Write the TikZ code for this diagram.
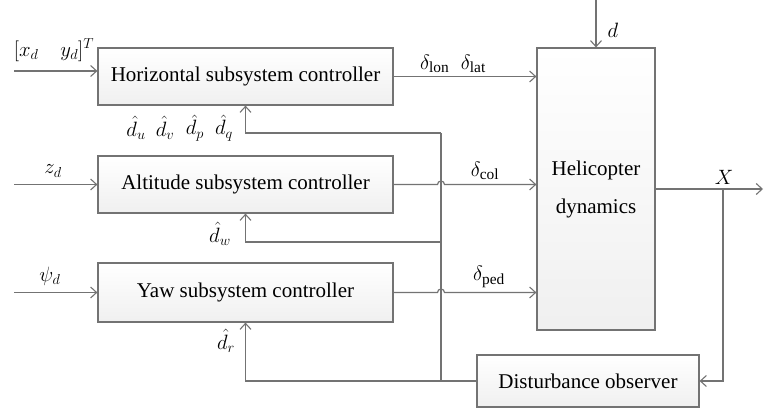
\documentclass[tikz,border=0pt]{standalone}
\usepackage{fontspec}
\setmainfont{Liberation Serif}
\usetikzlibrary{arrows.meta,calc}
\definecolor{lc}{RGB}{115,115,115}
\tikzset{
  blk/.style={draw=lc, line width=1.2pt, top color=white, bottom color=black!6, inner sep=0pt, font=\fontsize{21}{25}\selectfont},
  arr/.style={draw=lc, line width=1.2pt, -{Straight Barb[length=6pt,width=11pt,line width=1.1pt]}},
  ln/.style={draw=lc, line width=1.2pt},
  lab/.style={font=\fontsize{22}{26}\selectfont, inner sep=0pt}
}
\begin{document}
\begin{tikzpicture}[x=1pt,y=-1pt]
\useasboundingbox (0,0) rectangle (764,411);
% blocks
\node[blk, minimum width=295pt, minimum height=57pt] (hor) at (245.5,76.5) {Horizontal subsystem controller};
\node[blk, minimum width=295pt, minimum height=57pt] (alt) at (245.5,184.5) {Altitude subsystem controller};
\node[blk, minimum width=295pt, minimum height=59pt] (yaw) at (245.5,292.5) {Yaw subsystem controller};
\node[blk, minimum width=118pt, minimum height=282pt, align=center, font=\fontsize{21}{38}\selectfont] (heli) at (596,189) {Helicopter\\dynamics};
\node[blk, minimum width=222pt, minimum height=52pt] (do) at (588,381) {Disturbance observer};
% coordinates
\coordinate (inx) at (14,71);
\coordinate (inz) at (14,184.5);
\coordinate (inp) at (14,292.5);
\coordinate (dtop) at (596,0);
\coordinate (out) at (763,189);
\coordinate (bx) at (723,189);
\coordinate (v) at (441,380);
\coordinate (vt) at (441,133);
\coordinate (vw) at (441,242);
% inputs
\draw[arr] (inx) -- (inx -| hor.west);
\draw[arr] (inz) -- (alt.west);
\draw[arr] (inp) -- (yaw.west);
\draw[arr] (dtop) -- (heli.north);
% controller outputs
\draw[arr] (hor.east) -- (hor.east -| heli.west);
\draw[arr] (alt.east) -- ([xshift=-3.5pt]alt.east -| v) arc[start angle=180, end angle=0, radius=3.5pt] -- (alt.east -| heli.west);
\draw[arr] (yaw.east) -- ([xshift=-3.5pt]yaw.east -| v) arc[start angle=180, end angle=0, radius=3.5pt] -- (yaw.east -| heli.west);
% output
\draw[arr] (heli.east) -- (out);
\draw[arr] (bx) |- (do.east);
% feedback
\draw[arr] (do.west) -| (yaw.south);
\draw[ln] (v) -- (vt);
\draw[arr] (vw) -| (alt.south);
\draw[arr] (vt) -| (hor.south);
% labels
\node[lab] (lxy) at (54,50) {$[x_d\quad y_d]^T$};
\node[lab] (lz) at (53,171) {$z_d$};
\node[lab] (lpsi) at (50,276) {$\psi_d$};
\node[lab] (lhu) at (136,128) {$\hat{d}_u$};
\node[lab] (lhv) at (165,128) {$\hat{d}_v$};
\node[lab] (lhp) at (195,128) {$\hat{d}_p$};
\node[lab] (lhq) at (224,128) {$\hat{d}_q$};
\node[lab] (lw) at (220,234) {$\hat{d}_w$};
\node[lab] (lr) at (226,341) {$\hat{d}_r$};
\node[lab] (llon) at (453,64) {$\delta_{\mathrm{lon}}\;\;\delta_{\mathrm{lat}}$};
\node[lab] (lcol) at (485,171) {$\delta_{\mathrm{col}}$};
\node[lab] (lped) at (489,277) {$\delta_{\mathrm{ped}}$};
\node[lab] (ld) at (613,30) {$d$};
\node[lab] (lX) at (724,177) {$X$};
\end{tikzpicture}
\end{document}
